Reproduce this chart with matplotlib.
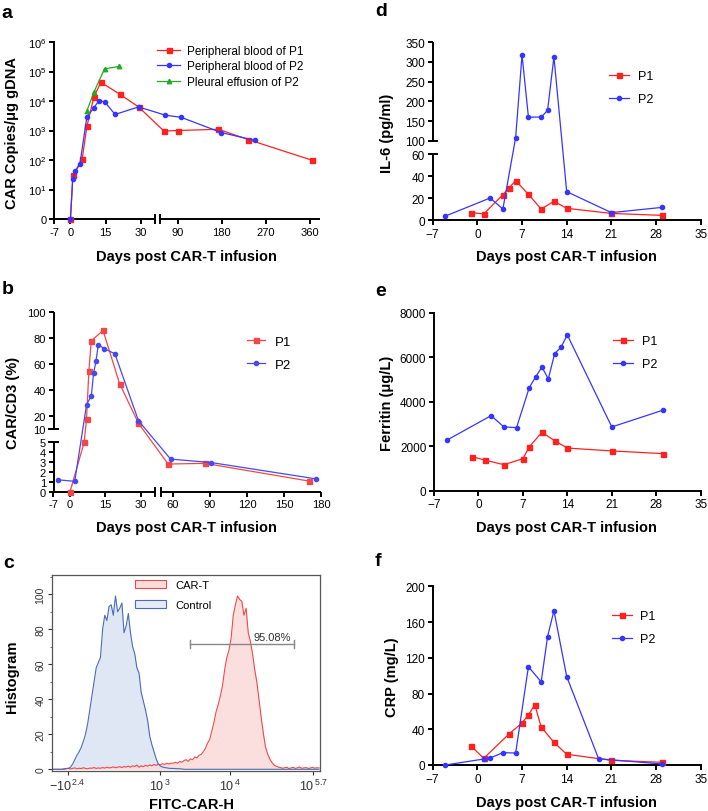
import numpy as np
import matplotlib
matplotlib.use('Agg')
import matplotlib.pyplot as plt
from matplotlib.patches import Patch
from matplotlib.lines import Line2D
from matplotlib.ticker import NullLocator, MultipleLocator

plt.rcParams['font.family'] = 'Liberation Sans'
plt.rcParams['mathtext.fontset'] = 'custom'
plt.rcParams['mathtext.rm'] = 'Liberation Sans'
plt.rcParams['mathtext.it'] = 'Liberation Sans:italic'
plt.rcParams['mathtext.bf'] = 'Liberation Sans:bold'

''' data read off the figure '''
# a: CAR copies / ug gDNA
a_p1_day = [0, 1, 5, 7, 10, 13, 21, 29, 62, 91, 173, 234, 364]
a_p1_val = [0, 30, 108, 1380, 14000, 43000, 17000, 6300, 960, 1000, 1100, 490, 98]
a_p2_day = [0, 1, 2, 4, 7, 10, 12, 14.5, 19, 29, 65, 97, 179, 248]
a_p2_val = [0, 23, 41, 71, 2900, 5900, 10000, 9500, 3500, 6300, 3300, 2800, 850, 460]
a_pe_day = [7, 10, 14.5, 20.5]
a_pe_val = [4600, 20000, 123000, 148000]
a_xticks = [-7, 0, 15, 30, 90, 180, 270, 360]
a_yticks = [0, 10, 100, 1e3, 1e4, 1e5, 1e6]
a_ylabels = ['0'] + [r'$\mathregular{10^{%d}}$' % n for n in range(1, 7)]

# b: CAR/CD3 (%)
b_p1_day = [0, 6, 7, 8, 9, 14, 21, 29, 56, 86, 170]
b_p1_val = [0, 5.0, 18, 55, 78, 86, 45, 14.4, 2.8, 2.87, 1.08]
b_p2_day = [-5, 2, 7, 9, 10, 11, 12, 14.5, 19, 29, 58, 91, 176]
b_p2_val = [1.2, 1.05, 28.8, 35.4, 53, 62.4, 75, 72, 68, 16.4, 3.3, 2.95, 1.3]
b_xticks = [-7, 0, 15, 30, 60, 90, 120, 150, 180]
b_yticks = [0, 1, 2, 3, 4, 5, 10, 20, 40, 60, 80, 100]

# c: flow cytometry histogram (bins of 8 channels on a 0-1000 display scale)
bin_width = 8
control_counts = [0, 0, 0, 0, 0, 0.3, 0.5, 0.5, 1.2, 3, 5.5, 8, 10, 12.5, 16, 20, 26, 34,
                  42, 50, 58, 61, 64, 80, 88, 85, 93, 94, 88, 99, 90, 92, 95, 78, 82, 89,
                  78, 70, 66, 58, 55, 44, 39, 34, 28, 19, 14, 10, 6, 3, 1.8, 1.3, 1.0, 0.8,
                  0.6, 0.5, 0.5, 0.4, 0.3, 0.3, 0.2] + [0] * 64
cart_counts = [0, 0, 0, 0, 0, 0,
               0.3, 0.6, 0.2, 0.5, 0.8, 0.3, 0.6, 0.4, 0.9, 0.5, 0.3, 0.7, 0.6, 1.0, 0.5,
               0.8, 0.6, 1.0, 0.7, 1.2, 0.8, 1.0, 1.4, 0.9, 1.2, 1.5, 1.0, 1.6, 1.3, 1.8,
               1.2, 2.0, 1.6, 2.4,
               1.2, 2.0, 1.5, 2.3, 1.8, 2.5, 2.0, 2.8, 2.2, 3.0, 2.5, 3.2, 2.8, 3.5, 3.0,
               3.5, 3.5, 4, 3.5, 4.5, 4, 5, 5.5, 4.5, 6, 5.5, 7, 6.5, 8, 8.5, 10, 12, 15,
               17, 22, 27, 33, 37, 42, 48, 57, 64, 68, 75, 88, 94, 99, 97, 96, 88, 92, 78,
               73, 66, 57, 50, 40, 30, 21, 13, 9, 6, 4, 2.5, 1.8, 1.3,
               1.0, 0.6, 0.9, 1.2, 0.4, 0.8, 1.1, 0.5, 0.9, 1.3, 0.6, 0.8, 1.0, 0.5, 0.7,
               1.2, 0.6, 0.9, 0.8]
c_xticks = [57, 402, 664, 975]
c_xlabels = [r'$\mathregular{-10^{\,2.4}}$', r'$\mathregular{10^{\,3}}$',
             r'$\mathregular{10^{\,4}}$', r'$\mathregular{10^{\,5.7}}$']
gate = (514, 903, 71.4)
gate_label = '95.08%'

# d: IL-6
d_p1_day = [-1, 1, 4, 5, 6, 8, 10, 12, 14, 21, 29]
d_p1_val = [6.7, 5.5, 23, 29.4, 35.8, 23.3, 10, 17, 10.6, 6, 4.2]
d_p2_day = [-5, 2, 4, 6, 7, 8, 10, 11, 12, 14, 21, 29]
d_p2_val = [3.6, 20, 10, 108, 318, 160, 160, 177, 313, 25.8, 6.7, 11.5]
d_yticks = [0, 20, 40, 60, 100, 150, 200, 250, 300, 350]

# e: ferritin
e_p1_day = [-1, 1, 4, 7, 8, 10, 12, 14, 21, 29]
e_p1_val = [1530, 1380, 1170, 1440, 1970, 2630, 2250, 1920, 1790, 1670]
e_p2_day = [-5, 2, 4, 6, 8, 9, 10, 11, 12, 13, 14, 21, 29]
e_p2_val = [2270, 3380, 2870, 2840, 4640, 5120, 5570, 5030, 6170, 6460, 7010, 2870, 3620]
e_yticks = [0, 2000, 4000, 6000, 8000]

# f: CRP
f_p1_day = [-1, 1, 5, 7, 8, 9, 10, 12, 14, 21, 29]
f_p1_val = [21.3, 7.5, 35, 47, 56, 67.5, 42.5, 25.4, 12, 5.2, 3]
f_p2_day = [-5, 1, 2, 4, 6, 8, 10, 11, 12, 14, 19, 29]
f_p2_val = [0, 6.7, 7.8, 13.8, 13.4, 110, 93, 143.6, 172.8, 99, 7, 1.1]
f_yticks = [0, 40, 80, 120, 160, 200]

day_ticks = [-7, 0, 7, 14, 21, 28, 35]

RED = '#ff2020'
BLUE = '#3535ff'
GREEN = '#22aa22'
RED_B = '#f04848'
BLUE_B = '#4848ee'
LW = 1.4

W, H = 708, 812
fig = plt.figure(figsize=(W / 100, H / 100), dpi=100)


def px_axes(x0, y0, x1, y1):
    return fig.add_axes([x0 / W, 1 - y1 / H, (x1 - x0) / W, (y1 - y0) / H])


def piecewise(src, dst):
    src = np.asarray(src, float)
    dst = np.asarray(dst, float)
    lo = (dst[1] - dst[0]) / (src[1] - src[0])
    hi = (dst[-1] - dst[-2]) / (src[-1] - src[-2])

    def f(v):
        v = np.asarray(v, float)
        out = np.interp(v, src, dst)
        out = np.where(v < src[0], dst[0] + (v - src[0]) * lo, out)
        out = np.where(v > src[-1], dst[-1] + (v - src[-1]) * hi, out)
        return out
    return f


def broken(src, dst):
    return (piecewise(src, dst), piecewise(dst, src))


def style(ax, fs):
    ax.spines['top'].set_visible(False)
    ax.spines['right'].set_visible(False)
    for s in ['left', 'bottom']:
        ax.spines[s].set_linewidth(LW)
    ax.tick_params(direction='out', length=3.5, width=LW, labelsize=fs, pad=2)
    ax.xaxis.set_minor_locator(NullLocator())
    ax.yaxis.set_minor_locator(NullLocator())


def split_x(ax, pieces, h_px):
    ax.spines['bottom'].set_visible(False)
    tr = ax.get_xaxis_transform()
    for a, b in pieces:
        ax.plot([a, b], [0, 0], color='black', lw=LW, transform=tr, clip_on=False,
                solid_capstyle='butt')
    d = 4.0 / h_px
    for x in [pieces[0][1], pieces[1][0]]:
        ax.plot([x, x], [-d, d], color='black', lw=LW, transform=tr, clip_on=False)


def split_y(ax, pieces, w_px):
    ax.spines['left'].set_visible(False)
    tr = ax.get_yaxis_transform()
    for a, b in pieces:
        ax.plot([0, 0], [a, b], color='black', lw=LW, transform=tr, clip_on=False,
                solid_capstyle='butt')
    d = 4.0 / w_px
    for y in [pieces[0][1], pieces[1][0]]:
        ax.plot([-d, d], [y, y], color='black', lw=LW, transform=tr, clip_on=False)


def series(ax, x, y, color, marker, ms):
    ax.plot(x, y, color=color, lw=0.9, marker=marker, ms=ms, mec=color, mfc=color,
            clip_on=False, zorder=3)


def two_legend(ax, colors, x_px, y_px, fs, hl, sp):
    hs = [Line2D([], [], color=colors[0], lw=0.9, marker='s', ms=3.6),
          Line2D([], [], color=colors[1], lw=0.9, marker='o', ms=3.0)]
    ax.legend(hs, ['P1', 'P2'], loc='center left', bbox_to_anchor=(x_px / W, 1 - y_px / H),
              bbox_transform=fig.transFigure, frameon=False, fontsize=fs, handlelength=hl,
              handletextpad=0.7, labelspacing=sp, borderpad=0, borderaxespad=0)


def fig_text(x, y, s, **kw):
    fig.text(x / W, 1 - y / H, s, **kw)


''' panel a '''
ax = px_axes(54, 43, 320, 220)
ax.set_xscale('function', functions=broken([-7, 36, 54, 380], [54, 155, 160, 320]))
ax.set_yscale('symlog', linthresh=10, linscale=0.9)
series(ax, a_p1_day, a_p1_val, RED, 's', 3.6)
series(ax, a_p2_day, a_p2_val, BLUE, 'o', 3.0)
series(ax, a_pe_day, a_pe_val, GREEN, '^', 3.2)
ax.set_xlim(-7, 380)
ax.set_ylim(0, 1e6)
style(ax, 8)
ax.set_xticks(a_xticks)
ax.set_xticklabels([str(t) for t in a_xticks])
ax.set_yticks(a_yticks)
ax.set_yticklabels(a_ylabels)
ax.yaxis.set_minor_locator(NullLocator())
ax.xaxis.set_minor_locator(NullLocator())
split_x(ax, [(-7, 36), (54, 380)], 177)
hs = [Line2D([], [], color=RED, lw=0.9, marker='s', ms=3.6),
      Line2D([], [], color=BLUE, lw=0.9, marker='o', ms=3.0),
      Line2D([], [], color=GREEN, lw=0.9, marker='^', ms=3.2)]
ax.legend(hs, ['Peripheral blood of P1', 'Peripheral blood of P2', 'Pleural effusion of P2'],
          loc='center left', bbox_to_anchor=(157 / W, 1 - 67.2 / H), bbox_transform=fig.transFigure,
          frameon=False, fontsize=8.5, handlelength=1.95, handletextpad=0.6, labelspacing=0.3,
          borderpad=0, borderaxespad=0)

''' panel b '''
ax = px_axes(53.5, 313.3, 321, 492.7)
ax.set_xscale('function', functions=broken([-7, 36, 50, 180], [53.5, 155, 160.7, 321]))
ax.set_yscale('function', functions=broken([0, 5, 10, 100], [-492.7, -443.3, -430, -313.3]))
series(ax, b_p1_day, b_p1_val, RED_B, 's', 3.6)
series(ax, b_p2_day, b_p2_val, BLUE_B, 'o', 3.0)
ax.set_xlim(-7, 180)
ax.set_ylim(0, 100)
style(ax, 8)
ax.set_xticks(b_xticks)
ax.set_xticklabels([str(t) for t in b_xticks])
ax.set_yticks(b_yticks)
ax.set_yticklabels([str(t) for t in b_yticks])
ax.xaxis.set_minor_locator(NullLocator())
ax.yaxis.set_minor_locator(NullLocator())
split_x(ax, [(-7, 36), (50, 180)], 179)
split_y(ax, [(0, 5), (10, 100)], 267)
two_legend(ax, [RED_B, BLUE_B], 246.7, 354.2, 9.5, 1.4, 0.85)

''' panel c '''
ax = px_axes(52.3, 576, 320, 771.7)
centers = np.arange(len(control_counts)) * bin_width + bin_width / 2
ax.fill_between(centers, control_counts, color='#dfe6f4', lw=0)
ax.fill_between(centers, cart_counts, color='#fbdcdc', lw=0, alpha=0.9)
ax.plot(centers, cart_counts, color='#ee4a4a', lw=0.8)
ax.plot(centers, control_counts, color='#4a6cb8', lw=0.8)
ax.set_xlim(0, 1000)
ax.set_ylim(-0.8, 111)
for s in ax.spines.values():
    s.set_color('#555555')
    s.set_linewidth(0.9)
ax.tick_params(direction='out', length=3, width=0.8, colors='#333333', labelsize=7.5, pad=2)
ax.tick_params(axis='x', labelsize=9)
ax.tick_params(which='minor', length=1.8, width=0.6, colors='#555555')
ax.set_yticks([0, 20, 40, 60, 80, 100])
ax.yaxis.set_minor_locator(MultipleLocator(10))
for lab in ax.get_yticklabels():
    lab.set_rotation(90)
    lab.set_va('center')
ax.set_xticks(c_xticks)
ax.set_xticklabels(c_xlabels)
x0, x1, gy = gate
ax.plot([x0, x1], [gy, gy], color='#888888', lw=1.0)
for xx in [x0, x1]:
    ax.plot([xx, xx], [gy - 2.2, gy + 2.2], color='#888888', lw=1.0)
ax.text(x1 - 10, gy + 1.5, gate_label, ha='right', va='bottom', fontsize=8, color='#333333')
hs = [Patch(facecolor='#fbdcdc', edgecolor='#ee4a4a', lw=0.8),
      Patch(facecolor='#e6ecf7', edgecolor='#4a6cb8', lw=0.8)]
ax.legend(hs, ['CAR-T', 'Control'], loc='center left', bbox_to_anchor=(135 / W, 1 - 596 / H),
          bbox_transform=fig.transFigure, frameon=False, fontsize=8, handlelength=2.8,
          handleheight=0.65, handletextpad=0.8, labelspacing=0.9, borderpad=0, borderaxespad=0)

''' panel d '''
ax = px_axes(432.7, 43.3, 700.7, 221)
ax.set_yscale('function', functions=broken([0, 60, 100, 350], [-221, -155, -141.7, -43.3]))
series(ax, d_p1_day, d_p1_val, RED, 's', 3.6)
series(ax, d_p2_day, d_p2_val, BLUE, 'o', 3.0)
ax.set_xlim(-7, 35)
ax.set_ylim(0, 350)
style(ax, 8.5)
ax.set_xticks(day_ticks)
ax.set_yticks(d_yticks)
ax.set_yticklabels([str(t) for t in d_yticks])
ax.yaxis.set_minor_locator(NullLocator())
split_y(ax, [(0, 60), (100, 350)], 268)
two_legend(ax, [RED, BLUE], 609, 88.7, 9, 1.6, 0.9)

''' panel e '''
ax = px_axes(434, 314, 700.7, 491.7)
series(ax, e_p1_day, e_p1_val, RED, 's', 3.6)
series(ax, e_p2_day, e_p2_val, BLUE, 'o', 3.0)
ax.set_xlim(-7, 35)
ax.set_ylim(0, 8000)
style(ax, 8.5)
ax.set_xticks(day_ticks)
ax.set_yticks(e_yticks)
two_legend(ax, [RED, BLUE], 613, 353.7, 9, 1.6, 0.9)

''' panel f '''
ax = px_axes(432.7, 587.3, 700.7, 766)
series(ax, f_p1_day, f_p1_val, RED, 's', 3.6)
series(ax, f_p2_day, f_p2_val, BLUE, 'o', 3.0)
ax.set_xlim(-7, 35)
ax.set_ylim(0, 200)
style(ax, 8.5)
ax.set_xticks(day_ticks)
ax.set_yticks(f_yticks)
two_legend(ax, [RED, BLUE], 611.7, 628.7, 9, 1.6, 0.9)

''' labels '''
bold = dict(fontsize=10.5, fontweight='bold', ha='center', va='center')
for x, y in [(186.7, 256.7), (186.7, 528), (566.7, 256.7), (566.7, 528), (566.7, 803)]:
    fig_text(x, y, 'Days post CAR-T infusion', **bold)
fig_text(191.7, 805, 'FITC-CAR-H', **bold)
fig_text(11.7, 133, 'CAR Copies/μg gDNA', rotation=90, **bold)
fig_text(13, 403, 'CAR/CD3 (%)', rotation=90, **bold)
fig_text(11.7, 677, 'Histogram', rotation=90, **bold)
fig_text(386.7, 133, 'IL-6 (pg/ml)', rotation=90, **bold)
fig_text(386.7, 403, 'Ferritin (μg/L)', rotation=90, **bold)
fig_text(391.7, 677, 'CRP (mg/L)', rotation=90, **bold)

letter = dict(fontsize=14, fontweight='bold', ha='left', va='center')
for x, y, s in [(1, 13, 'a'), (2, 290, 'b'), (3, 564, 'c'),
                (375, 11.5, 'd'), (375, 291.5, 'e'), (375, 561.5, 'f')]:
    fig_text(x, y, s, **letter)

fig.savefig('out.png', dpi=100)
